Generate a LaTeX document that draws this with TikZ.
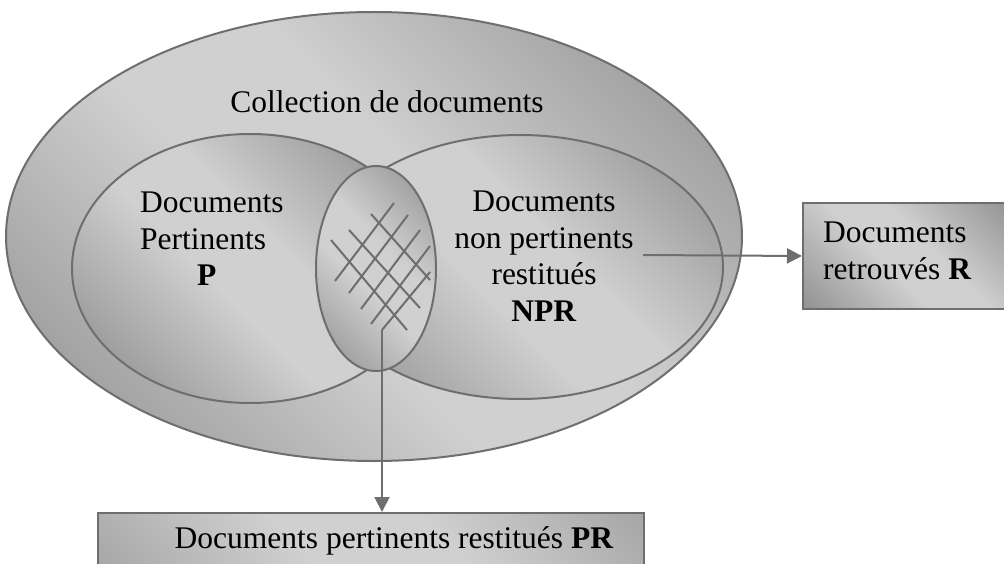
\documentclass[tikz,border=0pt]{standalone}
\usepackage{fontspec}
\setmainfont{Liberation Serif}
\usetikzlibrary{shapes.geometric,arrows.meta}

\definecolor{strokegray}{HTML}{6E6E6E}
\definecolor{shdark}{HTML}{888888}
\definecolor{shlight}{HTML}{D0D0D0}

% dark - light - dark band
\pgfdeclarehorizontalshading{vennshade}{100bp}{color(0bp)=(shdark); color(20bp)=(shdark); color(45bp)=(shlight); color(55bp)=(shlight); color(80bp)=(shdark); color(100bp)=(shdark)}

\tikzset{
  % #1 = half side of a square covering the shape, so the band keeps a true 45 degree slope
  setfill/.style={draw=strokegray, line width=2pt,
    path picture={\shade[shading=vennshade, shading angle=45]
      ([shift={(-#1,-#1)}]path picture bounding box.center) rectangle
      ([shift={(#1,#1)}]path picture bounding box.center);}},
  setellipse/.style={setfill=#1, ellipse, inner sep=0pt},
  setbox/.style={setfill=#1, rectangle, inner sep=0pt},
  txt/.style={inner sep=0pt, font=\fontsize{31.5}{36.5}\selectfont},
  link/.style={draw=strokegray, line width=2pt, -{Triangle[length=15pt,width=15pt]}},
  hatch/.style={draw=strokegray, line width=2pt}
}

\begin{document}
\begin{tikzpicture}[x=1pt, y=-1pt]
\useasboundingbox (0,0) rectangle (1004,564);
\clip (0,0) rectangle (1004,564);

% the collection and the two sets
\node[setellipse=368, minimum width=736pt, minimum height=449pt] (coll) at (374,236.5) {};
\node[setellipse=178, minimum width=356pt, minimum height=269pt] (pset) at (250,268.5) {};
\node[setellipse=203, minimum width=406pt, minimum height=264pt] (rset) at (520,267) {};
\node[setellipse=103, minimum width=120pt, minimum height=205pt] (prset) at (376,268.5) {};

% cross-hatching of the intersection
\coordinate (hatchfoot) at (382,330);
\draw[hatch]
  (335,281) -- (394,203)
  (349,293) -- (408,215)
  (361,309) -- (420,230)
  (371,324) -- (430,246)
  (hatchfoot) -- (430,272)
  (331,240) -- (407,330)
  (349,230) -- (420,308)
  (371,214) -- (430,280);

% result boxes
\node[setbox=105, anchor=north west, minimum width=210pt, minimum height=106pt] (rbox) at (802,202) {};
\node[setbox=273, anchor=north west, minimum width=546pt, minimum height=60pt] (prbox) at (97,512) {};

% texts (base = baseline of the last line)
\node[txt, anchor=base] (colltext) at (387,113) {Collection de documents};
\node[txt, anchor=base west, align=left] (ptext) at (140,285.7) {Documents\\Pertinents\\\hspace*{57pt}\textbf{P}};
\node[txt, anchor=base, align=center] (nprtext) at (544,321) {Documents\\non pertinents\\restitués\\\textbf{NPR}};
\node[txt, anchor=base west, align=left] (rtext) at (823,279) {Documents\\retrouvés \textbf{R}};
\node[txt, anchor=base] (prtext) at (394,548) {Documents pertinents restitués \textbf{PR}};

% connectors
\coordinate (nprout) at (643,255);
\draw[link] (nprout) -- (rbox.west);
\draw[link] (hatchfoot) -- (hatchfoot |- prbox.north);
\end{tikzpicture}
\end{document}
